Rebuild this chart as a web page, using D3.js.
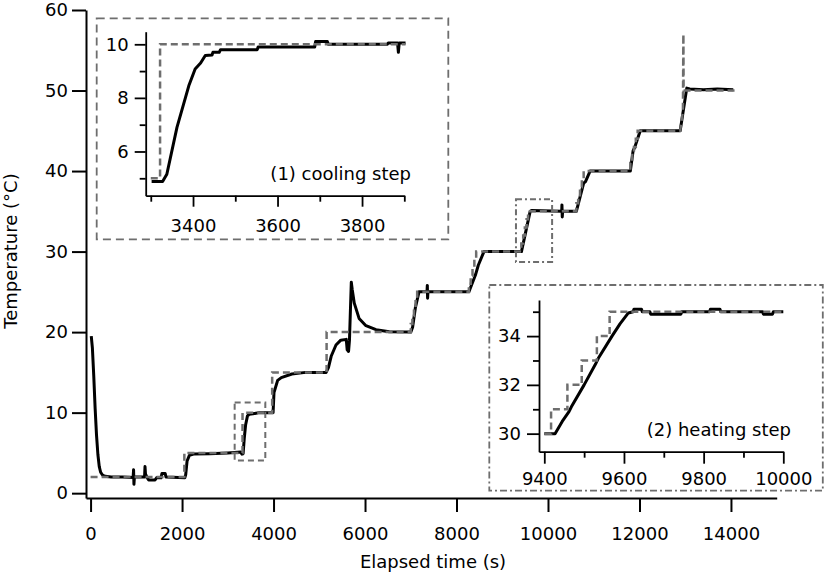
<!DOCTYPE html>
<html>
<head>
<meta charset="utf-8">
<script src="https://cdn.jsdelivr.net/npm/d3@7"></script>
<style>
  body { margin: 0; background: #fff; }
  svg { display: block; }
</style>
</head>
<body>
<svg id="chart" width="825" height="572"></svg>
<script>
// measured temperature over the whole run, [time (s), temp (°C)]
const measured = [
  [15,19.5],[40,18],[70,14.5],[100,10.5],[130,7.2],[160,4.8],[190,3.3],[220,2.6],[260,2.25],[320,2.1],
  [450,2.0],[700,2.0],[930,1.95],[940,2.9],[948,1.1],[958,2.0],[1180,2.0],[1190,3.3],[1200,2.4],
  [1230,2.0],[1270,1.65],[1410,1.65],[1450,1.95],[1540,1.9],[1560,2.45],[1630,2.45],[1650,2.0],
  [2060,1.9],[2080,2.3],[2110,4.0],[2160,4.7],[2250,4.85],[2600,4.9],[3000,5.0],[3280,5.1],
  [3310,4.85],[3335,4.9],[3360,6.8],[3390,8.5],[3430,9.6],[3470,9.8],[3550,9.85],[3690,10.0],
  [3990,10.0],[4010,12.5],[4090,14.0],[4170,14.35],[4400,14.8],[4700,15.0],[5150,15.0],[5200,15.6],
  [5260,17.0],[5365,18.4],[5470,19.0],[5590,19.1],[5610,17.8],[5640,17.6],[5660,19],[5700,26.2],
  [5720,25.3],[5765,23.6],[5870,21.7],[6020,20.8],[6240,20.3],[6530,20.05],[7000,20.0],[7040,20.6],
  [7100,23.0],[7180,25.0],[7355,25.0],[7362,25.8],[7368,24.2],[7375,25.0],[8270,25.0],[8380,26.6],
  [8420,27.2],[8476,28.3],[8600,30.0],[9420,30.0],[9610,35.0],[9640,35.1],[10300,35.0],[10305,35.8],
  [10312,34.3],[10320,35.0],[10620,35.0],[10780,38.5],[10820,38.7],[10920,40.0],[11800,40.0],
  [11860,42.5],[11900,43],[12017,45],[12890,45],[13034,50.3],[13100,50.2],[13400,50.1],[13700,50.2],
  [14050,50.1]
];

// controller set point
const setpoint = [
  [0,2],[2050,2],[2050,5],[3322,5],[3322,10],[3970,10],[3970,15],[5160,15],[5160,20],[7000,20],
  [7000,21],[7035,21],[7035,22],[7070,22],[7070,23],[7105,23],[7105,24],[7140,24],[7140,25],
  [8270,25],[8270,26],[8310,26],[8310,27],[8350,27],[8350,28],[8390,28],[8390,29],[8430,29],
  [8430,30],[9417,30],[9417,31],[9458,31],[9458,32],[9494,32],[9494,33],[9532,33],[9532,34],
  [9564,34],[9564,35],[10620,35],[10620,36],[10660,36],[10660,37],[10700,37],[10700,38],[10740,38],
  [10740,39],[10780,39],[10780,40],[11800,40],[11800,41],[11840,41],[11840,42],[11880,42],
  [11880,43],[11920,43],[11920,44],[11960,44],[11960,45],[12890,45],[12950,47.5],[12960,57],
  [12965,50],[14080,50]
];

// inset (1): cooling step
const coolMeasured = [
  [3302,4.88],[3328,4.88],[3338,5.15],[3362,6.9],[3390,8.45],[3405,9.08],[3418,9.3],[3429,9.58],
  [3445,9.6],[3447,9.7],[3462,9.7],[3465,9.8],[3552,9.8],[3554,9.9],[3688,9.9],[3690,10.1],
  [3718,10.1],[3720,10.0],[3860,10.0],[3862,10.05],[3884,10.05],[3886,9.7],[3888,10.05],[3903,10.05]
];
const coolSetpoint = [[3300,5],[3322,5],[3322,10],[3903,10]];

// inset (2): heating step
const heatMeasured = [
  [9400,30],[9427,30],[9445,30.5],[9462,30.9],[9468,31.1],[9500,32],[9530,32.9],[9536,33.1],
  [9570,34],[9590,34.5],[9611,34.95],[9623,35.0],[9625,35.1],[9644,35.1],[9646,35.0],[9665,35.0],
  [9667,34.9],[9743,34.9],[9745,35.0],[9815,35.0],[9817,35.1],[9841,35.1],[9843,35.0],[9948,35.0],
  [9950,34.9],[9973,34.9],[9975,35.0],[10000,35.0]
];
const heatSetpoint = [
  [9400,30],[9417,30],[9417,31],[9458,31],[9458,32],[9494,32],[9494,33],[9532,33],[9532,34],
  [9564,34],[9564,35],[10000,35]
];

const mainXTicks = [0,2000,4000,6000,8000,10000,12000,14000];
const mainYTicks = [0,10,20,30,40,50,60];
const coolXTicks = [3400,3600,3800], coolXMinor = [3300,3500,3700,3900];
const coolYTicks = [6,8,10], coolYMinor = [5,7,9];
const heatXTicks = [9400,9600,9800,10000], heatXMinor = [9500,9700,9900];
const heatYTicks = [30,32,34], heatYMinor = [31,33,35];

const FONT = "DejaVu Sans";
const GREY = "#6e6e6e";

let svg = d3.select("#chart");
let fmt = d3.format("d");

// draws an Igor-like pair of axes with major + minor ticks
let drawAxes = (g, x, y, o) => {
  let xr = x.range(), yr = y.range();
  let xb = g.append("g").attr("transform", "translate(0," + yr[0] + ")")
    .call(d3.axisBottom(x).tickValues(o.xMajor).tickFormat(fmt).tickSize(o.major).tickPadding(o.xPad).tickSizeOuter(0));
  let yl = g.append("g").attr("transform", "translate(" + xr[0] + ",0)")
    .call(d3.axisLeft(y).tickValues(o.yMajor).tickFormat(fmt).tickSize(o.major).tickPadding(o.yPad).tickSizeOuter(0));
  if (o.xMinor) {
    g.append("g").attr("transform", "translate(0," + yr[0] + ")")
      .call(d3.axisBottom(x).tickValues(o.xMinor).tickSize(o.minor).tickFormat("").tickSizeOuter(0))
      .select(".domain").remove();
    g.append("g").attr("transform", "translate(" + xr[0] + ",0)")
      .call(d3.axisLeft(y).tickValues(o.yMinor).tickSize(o.minor).tickFormat("").tickSizeOuter(0))
      .select(".domain").remove();
  }
  g.selectAll(".domain, .tick line").attr("stroke", "#000").attr("stroke-width", o.sw);
  [xb, yl].forEach(a => a.attr("font-family", FONT).attr("font-size", o.fs)
    .selectAll("text").attr("fill", "#000"));
};

let drawSeries = (g, x, y, meas, sp) => {
  let line = d3.line().x(d => x(d[0])).y(d => y(d[1]));
  g.append("path").datum(meas).attr("d", line)
    .attr("fill", "none").attr("stroke", "#000").attr("stroke-width", 3)
    .attr("stroke-linejoin", "round");
  g.append("path").datum(sp).attr("d", line)
    .attr("fill", "none").attr("stroke", GREY).attr("stroke-width", 2.5)
    .attr("stroke-dasharray", "7,4");
};

// MAIN PLOT
let x = d3.scaleLinear().domain([-100, 15000]).range([86, 776.7]);
let y = d3.scaleLinear().domain([-0.6, 60]).range([498, 10]);

let main = svg.append("g");
drawSeries(main, x, y, measured, setpoint);
drawAxes(main, x, y, {xMajor: mainXTicks, yMajor: mainYTicks, major: 14, xPad: 15, yPad: 4, sw: 2, fs: 18});

main.append("text")
  .attr("x", 433).attr("y", 568)
  .attr("text-anchor", "middle")
  .attr("font-family", FONT).attr("font-size", 18)
  .text("Elapsed time (s)");

main.append("text")
  .attr("transform", "translate(17,251) rotate(-90)")
  .attr("text-anchor", "middle")
  .attr("font-family", FONT).attr("font-size", 18)
  .text("Temperature (°C)");

// zoom regions marked on the main plot
main.append("rect")
  .attr("x", x(3150)).attr("y", y(11.25))
  .attr("width", x(3820) - x(3150)).attr("height", y(4.05) - y(11.25))
  .attr("fill", "none").attr("stroke", GREY).attr("stroke-width", 2).attr("stroke-dasharray", "6,4");
main.append("rect")
  .attr("x", x(9300)).attr("y", y(36.5))
  .attr("width", x(10090) - x(9300)).attr("height", y(28.7) - y(36.5))
  .attr("fill", "none").attr("stroke", GREY).attr("stroke-width", 2).attr("stroke-dasharray", "6,3,2,3");

// INSET 1
svg.append("rect")
  .attr("x", 96.7).attr("y", 18.3).attr("width", 351.6).attr("height", 221)
  .attr("fill", "#fff").attr("stroke", GREY).attr("stroke-width", 1.8).attr("stroke-dasharray", "8,5");

let cx = d3.scaleLinear().domain([3288, 3900]).range([145.7, 404.3]);
let cy = d3.scaleLinear().domain([4.35, 10.47]).range([195.7, 31.7]);
let cool = svg.append("g");
drawSeries(cool, cx, cy, coolMeasured, coolSetpoint);
drawAxes(cool, cx, cy, {xMajor: coolXTicks, xMinor: coolXMinor, yMajor: coolYTicks, yMinor: coolYMinor,
  major: 11, minor: 6, xPad: 13, yPad: 6, sw: 1.8, fs: 18});
cool.append("text")
  .attr("x", 411).attr("y", 180).attr("text-anchor", "end")
  .attr("font-family", FONT).attr("font-size", 18)
  .text("(1) cooling step");

// INSET 2
svg.append("rect")
  .attr("x", 489.3).attr("y", 285).attr("width", 333.5).attr("height", 205.7)
  .attr("fill", "#fff").attr("stroke", GREY).attr("stroke-width", 1.8).attr("stroke-dasharray", "7,3,2,3");

let hx = d3.scaleLinear().domain([9386.7, 10000]).range([539, 783.3]);
let hy = d3.scaleLinear().domain([29.26, 35.48]).range([451.7, 300]);
let heat = svg.append("g");
drawSeries(heat, hx, hy, heatMeasured, heatSetpoint);
drawAxes(heat, hx, hy, {xMajor: heatXTicks, xMinor: heatXMinor, yMajor: heatYTicks, yMinor: heatYMinor,
  major: 12, minor: 6, xPad: 9, yPad: 6, sw: 1.8, fs: 18});
heat.append("text")
  .attr("x", 791).attr("y", 436).attr("text-anchor", "end")
  .attr("font-family", FONT).attr("font-size", 18)
  .text("(2) heating step");
</script>
</body>
</html>
